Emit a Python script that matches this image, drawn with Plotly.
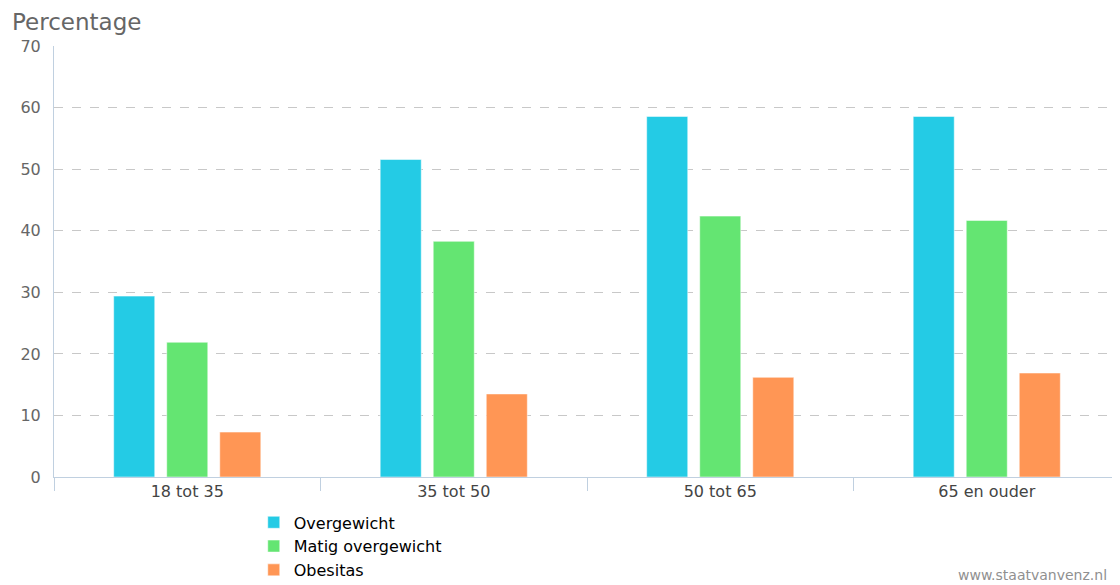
import plotly.graph_objects as go

categories = ["18 tot 35", "35 tot 50", "50 tot 65", "65 en ouder"]
overgewicht = [29.4, 51.6, 58.6, 58.6]
matig = [21.9, 38.3, 42.4, 41.7]
obesitas = [7.3, 13.5, 16.2, 16.9]
series_names = ["Overgewicht", "Matig overgewicht", "Obesitas"]
colors = ["#24CBE5", "#64E572", "#FF9655"]
y_ticks = [0, 10, 20, 30, 40, 50, 60, 70]

fig = go.Figure()
for name, vals, col in zip(series_names, [overgewicht, matig, obesitas], colors):
    fig.add_trace(go.Bar(x=categories, y=vals, name=name,
                         marker=dict(color=col, line=dict(color="rgba(255,255,255,0.5)", width=1))))

font_family = "DejaVu Sans, Verdana, sans-serif"
fig.update_layout(
    width=1112, height=577,
    margin=dict(l=46, r=0, t=38, b=108, autoexpand=False),
    paper_bgcolor="white", plot_bgcolor="white",
    barmode="group", bargap=0.403, bargroupgap=0.226,
    font=dict(family=font_family, color="#666666", size=15),
    showlegend=True,
    legend=dict(orientation="v", xref="container", yref="container",
                x=0.221, xanchor="left", y=0.138, yanchor="top",
                font=dict(size=16, color="#000000", family=font_family),
                tracegroupgap=0, itemwidth=30, bgcolor="rgba(0,0,0,0)"),
    xaxis=dict(showline=True, linecolor="#C0D0E0", linewidth=1,
               ticks="outside", tickcolor="#C0D0E0", ticklen=13,
               tickson="boundaries", showgrid=False,
               tickfont=dict(size=16, color="#444444")),
    yaxis=dict(range=[0, 70.05], tickvals=y_ticks, showline=True, linecolor="#C0D0E0",
               linewidth=1, showgrid=True, gridcolor="#C8C8C8", griddash="dash",
               zeroline=False, ticks="", ticklabelstandoff=9,
               tickfont=dict(size=16, color="#666666")),
    annotations=[
        dict(text="Percentage", xref="paper", yref="paper", x=-0.041, y=1.0,
             xanchor="left", yanchor="bottom", yshift=9, showarrow=False,
             font=dict(size=23, color="#666666", family=font_family)),
        dict(text="www.staatvanvenz.nl", xref="paper", yref="paper", x=0.99, y=0,
             xanchor="right", yanchor="top", yshift=-88, showarrow=False,
             font=dict(size=14, color="#909090", family=font_family)),
    ],
)
fig.write_html("out.html")
